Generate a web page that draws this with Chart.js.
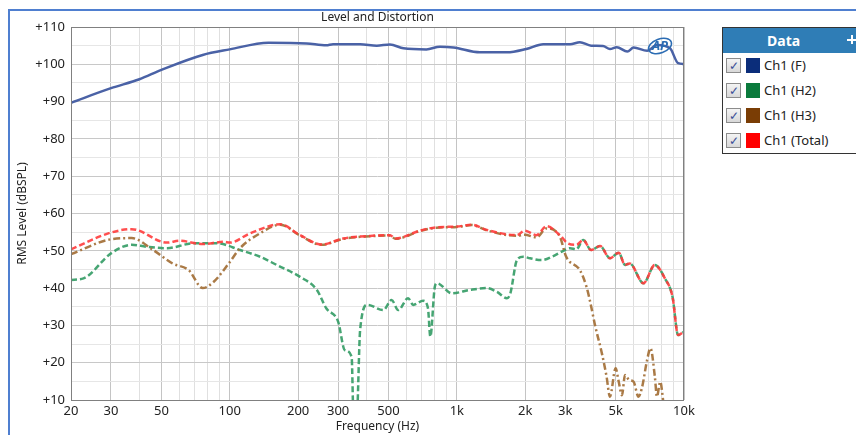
<!DOCTYPE html>
<html>
<head>
<meta charset="utf-8">
<script src="https://cdn.jsdelivr.net/npm/chart.js@4.4.0/dist/chart.umd.min.js"></script>
<style>
body { margin: 0; background: #fff; font-family: "Noto Sans", sans-serif; }
#wrap { position: relative; width: 856px; height: 435px; overflow: hidden; background: #fff; }
#frame { position: absolute; left: 8px; top: 9px; width: 860px; height: 440px; border-left: 2px solid #4f7fd0; border-top: 2px solid #4f7fd0; }
#chart { position: absolute; left: 0; top: 0; }
#title { position: absolute; left: 71px; width: 613px; top: 9px; line-height: 16px; text-align: center; font-size: 12px; color: #222; }
#legend { position: absolute; left: 722px; top: 27px; width: 140px; height: 125px; border: 1px solid #333; background: #fff; }
#legend .head { height: 25px; background: #2f7db6; color: #fff; font-weight: bold; font-size: 14px; line-height: 25px; padding-left: 44px; position: relative; }
#legend .pin { position: absolute; left: 124px; top: 11px; width: 9px; height: 2px; background: #fff; }
#legend .pin2 { position: absolute; left: 128px; top: 7px; width: 2px; height: 9px; background: #fff; }
#legend .row { position: relative; height: 25px; font-size: 13px; color: #222; }
#legend .cb { position: absolute; left: 3px; top: 5px; width: 13px; height: 13px; border: 1px solid #8c8c8c; background: linear-gradient(#f4f4f4, #d8d8d8); color: #3a4f96; font-size: 12px; line-height: 13px; text-align: center; }
#legend .sw { position: absolute; left: 23px; top: 5px; width: 14px; height: 15px; }
#legend .lbl { position: absolute; left: 41px; top: 3px; }
</style>
</head>
<body>
<div id="wrap">
  <div id="frame"></div>
  <canvas id="chart" width="856" height="435"></canvas>
  <div id="title">Level and Distortion</div>
  <div id="legend">
    <div class="head">Data<div class="pin"></div><div class="pin2"></div></div>
    <div id="legendRows"></div>
  </div>
</div>
<script>
// eixo x (Hz)
const xMajor = [20, 30, 50, 100, 200, 300, 500, 1000, 2000, 3000, 5000, 10000];
const xLabels = ['20', '30', '50', '100', '200', '300', '500', '1k', '2k', '3k', '5k', '10k'];
const xGrid = [20, 30, 40, 50, 60, 70, 80, 90, 100, 200, 300, 400, 500, 600, 700, 800, 900,
    1000, 2000, 3000, 4000, 5000, 6000, 7000, 8000, 9000, 10000];

// Ch1 (F)
const fFreq = [20, 30, 40, 50, 76, 100, 148, 218, 266, 285, 375, 444, 507, 582, 734, 842, 966,
    1264, 1662, 2022, 2400, 3150, 3480, 3900, 4400, 4720, 5060, 5630, 6000, 6880, 7600, 8680, 9420, 10000];
const fLevel = [89.7, 93.6, 96.0, 98.5, 102.5, 104.0, 105.8, 105.6, 105.1, 105.4, 105.4, 105.0, 105.3, 104.3, 104.0, 104.7, 104.5,
    103.2, 103.2, 104.1, 105.4, 105.4, 105.9, 105.0, 104.9, 104.1, 104.6, 103.4, 104.5, 103.6, 105.2, 104.3, 100.3, 100.1];

// Ch1 (H2)
const h2Freq = [20, 22.7, 30, 37, 43, 53, 69, 88, 111, 136, 161, 204, 242, 266, 300, 321, 344, 351, 362, 375, 404,
    474, 516, 552, 610, 642, 710, 746, 764, 800, 818, 950, 1140, 1352, 1500, 1662, 1720, 1838, 1960, 2100, 2360,
    2660, 2900, 3150, 3360, 3600, 3900, 4270, 4720, 5160, 5500, 5770, 6630, 7440, 8240, 8900, 9420, 10000];
const h2Level = [42.2, 42.6, 49.3, 51.6, 51.1, 50.7, 52.0, 52.0, 50.2, 48.4, 46.2, 43.0, 39.5, 34.6, 31.0, 23.4, 21.6, 5, 5, 28.8, 35.5,
    34.1, 36.8, 34.1, 37.3, 35.5, 36.6, 34.6, 27.0, 40.4, 41.3, 38.6, 39.5, 40.0, 39.0, 37.3, 38.6, 47.5, 48.4, 48.0, 47.5,
    48.6, 49.8, 50.7, 50.4, 52.9, 50.2, 51.3, 48.0, 49.5, 46.2, 46.6, 41.3, 46.2, 42.6, 37.7, 27.4, 28.3];

// Ch1 (H3)
const h3Freq = [20, 30, 37, 46, 56, 66, 76, 85, 99, 111, 136, 167, 204, 254, 316, 415, 507, 537, 688, 813, 1000,
    1164, 1352, 1838, 1990, 2240, 2480, 2840, 3030, 3480, 3720, 3860, 4070, 4350, 4560, 4720, 5000, 5160, 5330,
    5500, 5730, 6000, 6300, 6520, 6880, 7120, 7440, 7600, 7860, 8070, 8200];
const h3Level = [49.1, 53.1, 53.4, 50.2, 46.6, 44.8, 40.0, 41.7, 46.6, 50.7, 54.7, 57.0, 54.1, 51.6, 53.2, 53.9, 54.1, 53.2, 55.3, 56.2, 56.4,
    56.9, 55.5, 54.0, 54.3, 53.6, 56.0, 53.8, 48.4, 44.8, 40.4, 36.4, 29.7, 22.5, 16.3, 10.9, 18.5, 14.9, 11.3,
    16.7, 15.4, 14.9, 10.9, 13.1, 20.7, 23.9, 16.3, 10.9, 14.9, 10.5, 6];

// Ch1 (Total)
const totFreq = [20, 30, 37, 53, 60, 76, 94, 100, 123, 167, 204, 254, 316, 415, 507, 537, 688, 813, 1000, 1164, 1352,
    1838, 1990, 2240, 2480, 2840, 3080, 3360, 3600, 3900, 4270, 4720, 5160, 5500, 5770, 6630, 7440, 8240, 8900, 9420, 10000];
const totLevel = [50.4, 54.9, 55.8, 52.2, 52.7, 51.8, 52.4, 52.2, 54.7, 57.1, 54.2, 51.7, 53.3, 54.0, 54.2, 53.3, 55.4, 56.3, 56.5, 57.0, 55.6,
    54.2, 55.4, 54.2, 56.6, 54.2, 52.0, 51.6, 52.9, 50.2, 51.3, 48.0, 49.5, 46.2, 46.6, 41.3, 46.2, 42.6, 37.7, 27.4, 28.3];

const seriesNames = ['Ch1 (F)', 'Ch1 (H2)', 'Ch1 (H3)', 'Ch1 (Total)'];
const swatchColors = ['#0b2d7a', '#0a7a3c', '#7a3d05', '#ff0000'];

function pts(xs, ys) {
    return xs.map((x, i) => ({ x: x, y: ys[i] }));
}

// legenda
const rows = document.getElementById('legendRows');
seriesNames.forEach((nome, i) => {
    const div = document.createElement('div');
    div.className = 'row';
    div.innerHTML = `<div class="cb">✓</div><div class="sw" style="background:${swatchColors[i]}"></div><div class="lbl">${nome}</div>`;
    rows.appendChild(div);
});

// borda da área do gráfico + logo
const framePlugin = {
    id: 'framePlugin',
    afterDraw(chart) {
        const a = chart.chartArea;
        const ctx = chart.ctx;
        ctx.save();
        ctx.strokeStyle = '#808080';
        ctx.lineWidth = 1;
        ctx.strokeRect(a.left + 0.5, a.top + 0.5, a.right - a.left - 1, a.bottom - a.top);
        // logo AP
        ctx.strokeStyle = '#2b6cb3';
        ctx.lineWidth = 1.5;
        ctx.beginPath();
        ctx.ellipse(a.right - 24, a.top + 19, 12, 7, -0.35, 0, Math.PI * 2);
        ctx.stroke();
        ctx.fillStyle = '#2b6cb3';
        ctx.font = 'italic bold 13px "Noto Sans"';
        ctx.textAlign = 'center';
        ctx.textBaseline = 'middle';
        ctx.fillText('AP', a.right - 24, a.top + 19);
        ctx.restore();
    }
};

const tickFont = { family: '"Noto Sans"', size: 13 };

new Chart(document.getElementById('chart').getContext('2d'), {
    type: 'line',
    data: {
        datasets: [
            { label: seriesNames[3], data: pts(totFreq, totLevel), borderColor: 'rgba(255,60,60,0.9)', borderDash: [6, 3], order: 1 },
            { label: seriesNames[2], data: pts(h3Freq, h3Level), borderColor: 'rgba(165,115,60,0.95)', borderDash: [7, 3, 2, 3], order: 2 },
            { label: seriesNames[1], data: pts(h2Freq, h2Level), borderColor: 'rgba(50,155,100,0.9)', borderDash: [6, 3], order: 3 },
            { label: seriesNames[0], data: pts(fFreq, fLevel), borderColor: '#4a62a6', order: 4 }
        ]
    },
    options: {
        responsive: false,
        animation: false,
        parsing: true,
        layout: { padding: { left: 12, right: 172, top: 27, bottom: 0 } },
        elements: {
            point: { radius: 0 },
            line: { borderWidth: 2.5, cubicInterpolationMode: 'monotone', fill: false }
        },
        plugins: { legend: { display: false }, tooltip: { enabled: false }, title: { display: false } },
        scales: {
            x: {
                type: 'logarithmic',
                min: 20,
                max: 10000,
                afterBuildTicks: (scale) => { scale.ticks = xGrid.map(v => ({ value: v })); },
                afterFit: (scale) => { scale.height = 35; },
                ticks: {
                    autoSkip: false,
                    maxRotation: 0,
                    padding: 3,
                    color: '#222',
                    font: tickFont,
                    callback: (v) => {
                        const i = xMajor.indexOf(v);
                        return i >= 0 ? xLabels[i] : '';
                    }
                },
                grid: {
                    drawTicks: false,
                    color: (c) => xMajor.includes(c.tick.value) ? '#c4c4c4' : '#e0e0e0'
                },
                border: { display: false },
                title: { display: true, text: 'Frequency (Hz)', color: '#222', font: { family: '"Noto Sans"', size: 12 }, padding: { top: 0, bottom: 1 } }
            },
            y: {
                min: 10,
                max: 110,
                afterFit: (scale) => { scale.width = 59; },
                ticks: {
                    stepSize: 5,
                    padding: 6,
                    color: '#222',
                    font: tickFont,
                    callback: (v) => v % 10 === 0 ? '+' + v : ''
                },
                grid: {
                    drawTicks: false,
                    color: (c) => c.tick.value % 10 === 0 ? '#c8c8c8' : '#e6e6e6'
                },
                border: { display: false },
                title: { display: true, text: 'RMS Level (dBSPL)', color: '#222', font: { family: '"Noto Sans"', size: 12 }, padding: { top: 3, bottom: 0 } }
            }
        }
    },
    plugins: [framePlugin]
});
</script>
</body>
</html>
